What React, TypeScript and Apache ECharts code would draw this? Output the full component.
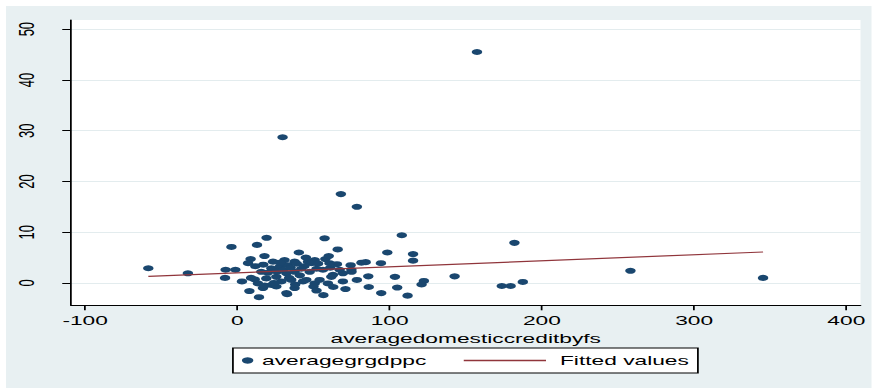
import React, { useEffect, useRef } from "react";
import * as echarts from "echarts";

// horizontal stretch of the reference picture
const S = 1.75;
const W = 872 / S;
const FONT = "'Liberation Sans', Arial, sans-serif";

const xTicks = [-100, 0, 100, 200, 300, 400];
const yTicks = [0, 10, 20, 30, 40, 50];

const creditX = [
  157.4, 29.7, 68, 78.5, 108, 182, 258.2, 345.3, -58.5, -32.5,
  142.7, 173.7, 179.5, 187.5, 122.5, 121, 115.4, 115.4, 98.5, 94.3,
  103.5, 105, 94.5, 111.8, 86, 86.3, 84.3, 81.5, 78.5, 74.4,
  71, 65.9, 65.4, 57.3, 57.8, 50.8, 56.5, 40.4, 32.7, -3.9,
  12.9, 19.2, -7.7, -1.3, -8.1, 3, 7.9, 14.2, 17.8, 8.7,
  7, 11.8, 11.4, 23.4, 31, 15.7, 22.3, 27.8, 33.2, 19,
  25.6, 32.2, 13.5, 22.3, 28.9, 35.4, 32.2, 25.6, 16.8, 37.6,
  46.4, 37.6, 47.5, 56.2, 62.8, 69.3, 43.1, 50.8, 59.5, 37.6,
  50, 61.7, 69.3, 74.9, 67.2, 54, 45.3, 48.6, 52, 44,
  61, 41, 26, 20, 30, 35, 42, 9, 18, 24,
  60, 63, 75, 45, 28, 38, 52, 17, 39, 53,
  34, 60.5,
];
const growthY = [
  45.5, 28.7, 17.5, 15.0, 9.4, 7.9, 2.4, 1.0, 2.9, 1.9,
  1.3, -0.6, -0.6, 0.2, 0.4, -0.3, 5.7, 4.4, 6.0, 3.9,
  1.2, -0.9, -2.0, -2.5, 1.3, -0.8, 4.1, 4.0, 0.6, 3.5,
  -1.2, 6.6, 3.7, 8.8, 4.7, 4.5, -2.4, 6.0, -2.2, 7.1,
  7.5, 8.9, 2.6, 2.6, 1.0, 0.3, -1.6, -2.8, 5.3, 4.7,
  3.9, 3.3, 0.7, 4.2, 4.5, 2.2, 2.9, 3.2, 3.5, 0.9,
  1.2, 1.9, -0.1, -0.4, 0.3, 0.6, -2.0, -0.7, -1.0, 4.2,
  4.2, 2.2, 2.2, 2.6, 1.6, 1.9, 0.3, -0.1, -0.1, -1.0,
  -0.7, 1.2, 0.3, 2.6, 2.6, 0.6, 0.6, 3.9, 2.8, 3.3,
  3.0, 1.5, 2.2, 2.0, 2.6, 3.0, 2.8, 1.0, -0.5, 0.0,
  5.3, -0.8, 2.2, 5.0, 4.0, -0.3, -1.5, 3.6, 3.8, 3.8,
  1.0, 3.9,
];
const fittedX = [-58.5, 345.3];
const fittedY = [1.3, 6.1];

const NAVY = "#1A476F";
const MAROON = "#90353B";
const BG = "#E8F0F2";

export default function App() {
  const ref = useRef<HTMLDivElement>(null);
  useEffect(() => {
    if (!ref.current) return;
    const chart = echarts.init(ref.current, null, { renderer: "svg" });
    const scatterData = creditX.map((x, i) => [x, growthY[i]]);
    const lineData = fittedX.map((x, i) => [x, fittedY[i]]);
    const labelStyle = { fontSize: 13, color: "#000", fontFamily: FONT };
    chart.setOption({
      animation: false,
      backgroundColor: "transparent",
      textStyle: { fontFamily: FONT },
      graphic: [
        {
          type: "rect",
          z: -10,
          silent: true,
          shape: { x: 6 / S, y: 6, width: W, height: 400 },
          style: { fill: BG },
        },
        {
          type: "rect",
          z: 1,
          silent: true,
          shape: { x: 133.1, y: 348, width: 265.7, height: 25 },
          style: { fill: "#fff", stroke: "#000", lineWidth: 1 },
        },
      ],
      grid: {
        left: 71 / S,
        right: W - 861 / S,
        top: 20,
        bottom: 388 - 305.3,
        show: true,
        backgroundColor: "#fff",
        borderWidth: 0,
      },
      xAxis: {
        type: "value",
        min: -109.3,
        max: 409.3,
        name: "averagedomesticcreditbyfs",
        nameLocation: "middle",
        nameGap: 20,
        nameTextStyle: labelStyle,
        axisLine: { show: true, onZero: false, lineStyle: { color: "#000", width: 1 } },
        axisTick: { show: true, customValues: xTicks, length: 5, lineStyle: { color: "#000" } },
        axisLabel: { customValues: xTicks, margin: 9, ...labelStyle },
        splitLine: { show: false },
      },
      yAxis: {
        type: "value",
        min: -4.4,
        max: 51.8,
        axisLine: { show: true, onZero: false, lineStyle: { color: "#000", width: 1 } },
        axisTick: { show: true, customValues: yTicks, length: 5, lineStyle: { color: "#000" } },
        axisLabel: { customValues: yTicks, margin: 19, rotate: 90, ...labelStyle },
        splitLine: { show: true, lineStyle: { color: "#E3ECEE", width: 1 } },
      },
      legend: [
        {
          data: ["averagegrgdppc"],
          left: 138.25,
          top: 354,
          padding: 0,
          itemWidth: 6.5,
          itemHeight: 6.5,
          icon: "circle",
          textStyle: labelStyle,
          z: 5,
        },
        {
          data: [{ name: "Fitted values", icon: "rect" }],
          left: 265,
          top: 354,
          padding: 0,
          itemWidth: 47,
          itemHeight: 1.3,
          textStyle: { ...labelStyle, padding: [0, 0, 0, 3] },
          z: 5,
        },
      ],
      series: [
        {
          name: "averagegrgdppc",
          type: "scatter",
          symbol: "circle",
          symbolSize: 6,
          itemStyle: { color: NAVY, opacity: 1 },
          data: scatterData,
        },
        {
          name: "Fitted values",
          type: "line",
          symbol: "none",
          showSymbol: false,
          lineStyle: { color: MAROON, width: 1.2 },
          itemStyle: { color: MAROON },
          data: lineData,
        },
      ],
    });
    return () => chart.dispose();
  }, []);
  return (
    <div
      ref={ref}
      style={{
        position: "absolute",
        left: 0,
        top: 0,
        width: W,
        height: 388,
        transform: `scaleX(${S})`,
        transformOrigin: "0 0",
      }}
    />
  );
}
